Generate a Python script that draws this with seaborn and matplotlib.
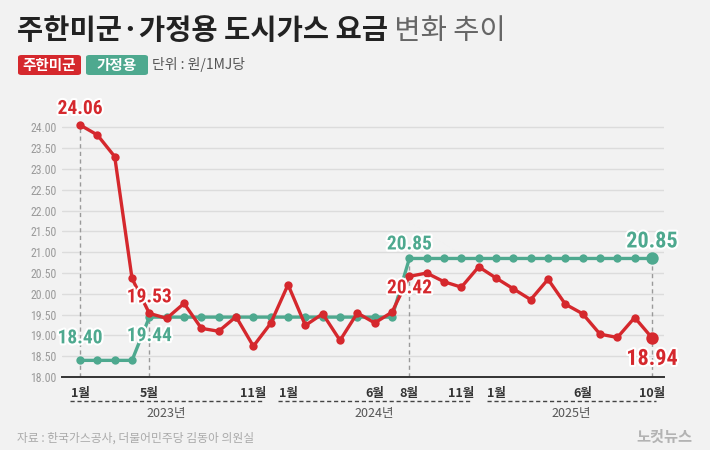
import numpy as np
import pandas as pd
import matplotlib
matplotlib.use("Agg")
import matplotlib.pyplot as plt
import matplotlib.patheffects as pe
from matplotlib.patches import FancyBboxPatch
from matplotlib import font_manager as fm
import seaborn as sns

# ---------------- data ----------------
months = list(range(34))  # Jan 2023 .. Oct 2025
usfk = [24.06, 23.82, 23.30, 20.37, 19.53, 19.41, 19.77, 19.17, 19.10, 19.45, 18.74, 19.29,
        20.22, 19.24, 19.52, 18.88, 19.54, 19.30, 19.56, 20.42, 20.50, 20.29, 20.16, 20.65,
        20.38, 20.12, 19.86, 20.35, 19.75, 19.52, 19.03, 18.95, 19.43, 18.94]
home = [18.40] * 4 + [19.44] * 15 + [20.85] * 15
tick_pos = [0, 4, 10, 12, 17, 19, 22, 24, 29, 33]
tick_lab = ["1월", "5월", "11월", "1월", "6월", "8월", "11월", "1월", "6월", "10월"]
years = ["2023년", "2024년", "2025년"]
year_spans = [(-0.58, 10.56), (11.4, 22.6), (23.45, 33.2)]
series_names = ["주한미군", "가정용"]
title_main = "주한미군·가정용 도시가스 요금"
title_sub = " 변화 추이"
unit_text = "단위 : 원/1MJ당"
source_text = "자료 : 한국가스공사, 더불어민주당 김동아 의원실"
logo_text = "노컷뉴스"

RED = "#d5282d"
TEAL = "#4ea98f"
BG = "#f2f2f2"

sns.set_theme(style="white")

# pick a condensed font for numbers if one exists
NUM_PROPS = dict(family="Roboto")
names = {f.name for f in fm.fontManager.ttflist}
for cand in ["Roboto Condensed", "Liberation Sans Narrow", "Open Sans Condensed"]:
    if cand in names:
        NUM_PROPS = dict(family=cand)
        break
else:
    cond = [f for f in fm.fontManager.ttflist
            if "condensed" in str(f.stretch).lower() or "Condensed" in f.fname]
    if cond:
        NUM_PROPS = dict(fname=cond[0].fname)
        boldc = [f for f in cond if "Bold" in f.fname and "Oblique" not in f.fname
                 and "Italic" not in f.fname and f.name == cond[0].name]
        if boldc:
            NUM_PROPS = dict(fname=boldc[0].fname)

def num_fp(size, bold=True):
    if "fname" in NUM_PROPS:
        return fm.FontProperties(fname=NUM_PROPS["fname"], size=size)
    return fm.FontProperties(family=NUM_PROPS["family"], size=size,
                             weight="bold" if bold else "normal")

KR = "Noto Sans CJK KR"
plt.rcParams["font.family"] = [KR, "DejaVu Sans"]

fig = plt.figure(figsize=(7.1, 4.5), dpi=100, facecolor=BG)
W, H = 710, 450
ax_l, ax_r, ax_b, ax_t = 62, 664, 377, 110
ax = fig.add_axes([ax_l / W, 1 - ax_b / H, (ax_r - ax_l) / W, (ax_b - ax_t) / H])
ax.set_facecolor(BG)

df = pd.DataFrame({
    "month": months * 2,
    "value": home + usfk,
    "series": [series_names[1]] * len(months) + [series_names[0]] * len(months),
})
sns.lineplot(data=df, x="month", y="value", hue="series",
             palette={series_names[0]: RED, series_names[1]: TEAL},
             hue_order=[series_names[1], series_names[0]],
             marker="o", markersize=6, markeredgewidth=0, linewidth=2.4,
             legend=False, ax=ax, zorder=3)
ax.scatter([months[-1]], [home[-1]], s=80, color=TEAL, zorder=5, linewidths=0)
ax.scatter([months[-1]], [usfk[-1]], s=80, color=RED, zorder=5, linewidths=0)

ax.set_xlim(-1.04, 33.69)
ax.set_ylim(18, 24.42)
ax.set_yticks(np.arange(18, 24.01, 0.5))
ax.yaxis.set_major_formatter(matplotlib.ticker.FormatStrFormatter("%.2f"))
ax.tick_params(axis="y", length=0, labelsize=8.5, labelcolor="#9a9a9a", pad=4)
for t in ax.get_yticklabels():
    t.set_fontproperties(num_fp(8.5, bold=False) if "fname" not in NUM_PROPS
                         else fm.FontProperties(family=["DejaVu Sans"], size=8, stretch="condensed"))
ax.grid(axis="y", color="#dcdcdc", linewidth=1)
ax.grid(axis="x", visible=False)
for s in ["top", "right", "left"]:
    ax.spines[s].set_visible(False)
ax.spines["bottom"].set_color("#333333")
ax.spines["bottom"].set_linewidth(1.4)
ax.set_xticks(months)
ax.set_xticklabels([tick_lab[tick_pos.index(m)] if m in tick_pos else "" for m in months])
ax.tick_params(axis="x", direction="out", length=4, width=1, color="#333333",
               labelsize=9, labelcolor="#333333", pad=3)
for t in ax.get_xticklabels():
    t.set_fontweight("bold")
ax.set_xlabel("")
ax.set_ylabel("")

for xi, yv in [(0, usfk[0]), (4, home[4]), (19, home[19]), (33, home[33])]:
    ax.vlines(xi, 18, yv, colors="#9a9a9a", linestyles=(0, (3, 2.5)), linewidth=1, zorder=1)

ytr = ax.get_xaxis_transform()
for (x0, x1), lab in zip(year_spans, years):
    ax.plot([x0, x1], [-0.09, -0.09], transform=ytr, clip_on=False,
            color="#444444", linestyle=(0, (3, 2)), linewidth=1)
    ax.text((x0 + x1) / 2, -0.137, lab, transform=ytr, ha="center", va="center",
            fontsize=9, color="#555555")

halo = [pe.withStroke(linewidth=3, foreground="white")]
def lab(x, y, s, c, dy_px, size=14):
    ax.annotate(s, (x, y), xytext=(0, dy_px), textcoords="offset pixels",
                ha="center", va="center", fontproperties=num_fp(size),
                color=c, path_effects=halo, zorder=6)

lab(0, usfk[0], f"{usfk[0]:.2f}", RED, 16)
lab(0, home[0], f"{home[0]:.2f}", TEAL, 22)
lab(4, usfk[4], f"{usfk[4]:.2f}", RED, 16)
lab(4, home[4], f"{home[4]:.2f}", TEAL, -19)
lab(19, home[19], f"{home[19]:.2f}", TEAL, 14)
lab(19, usfk[19], f"{usfk[19]:.2f}", RED, -12)
lab(33, home[33], f"{home[33]:.2f}", TEAL, 17, size=16)
lab(33, usfk[33], f"{usfk[33]:.2f}", RED, -21, size=16)

fig.canvas.draw()
r = fig.canvas.get_renderer()
t1 = fig.text(17 / W, 1 - 31 / H, title_main, fontsize=20.5, fontweight="bold",
              color="#222222", va="center", ha="left")
bb = t1.get_window_extent(renderer=r)
fig.text(bb.x1 / W, 1 - 31 / H, title_sub, fontsize=20.5, fontweight="normal",
         color="#666666", va="center", ha="left")

for (x0, x1), name, col in [((18, 81), series_names[0], RED), ((86, 148), series_names[1], TEAL)]:
    p = FancyBboxPatch((x0 / W, 1 - 75 / H), (x1 - x0) / W, 20 / H,
                       boxstyle="round,pad=0,rounding_size=0.005",
                       transform=fig.transFigure, facecolor=col, edgecolor="none")
    fig.add_artist(p)
    fig.text((x0 + x1) / 2 / W, 1 - 65 / H, name, fontsize=10.5, fontweight="bold",
             color="white", ha="center", va="center")
fig.text(152 / W, 1 - 65 / H, unit_text, fontsize=10, color="#555555",
         ha="left", va="center")

fig.text(17 / W, 1 - 438 / H, source_text, fontsize=8.5, color="#aaaaaa",
         ha="left", va="center")
fig.text(692 / W, 1 - 437 / H, logo_text, fontsize=11, fontweight="bold",
         color="#b3b3b3", ha="right", va="center")

fig.savefig("out.png", dpi=100, facecolor=BG)
